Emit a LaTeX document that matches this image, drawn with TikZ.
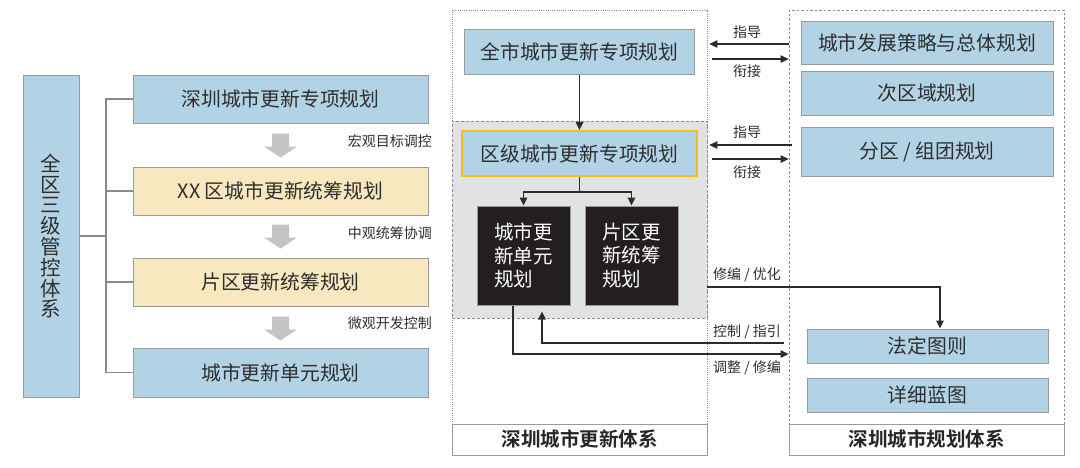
\documentclass[tikz,border=0pt]{standalone}
\usepackage{fontspec}
\setmainfont{Noto Sans CJK SC}[BoldFont={Noto Sans CJK SC Bold}]
\usetikzlibrary{arrows.meta,calc}
\definecolor{boxblue}{HTML}{B2D3E6}
\definecolor{boxyellow}{HTML}{F8E8C0}
\definecolor{regiongray}{HTML}{E1E2E4}
\definecolor{darkbox}{HTML}{231F20}
\definecolor{gold}{HTML}{F6BE1A}
\definecolor{bordergray}{HTML}{9B9B9B}
\definecolor{txt}{HTML}{2E2E2E}
\definecolor{linegray}{HTML}{8A8A8A}
\definecolor{arrowgray}{HTML}{C4C4C4}
\definecolor{conngray}{HTML}{2B2B2B}
\tikzset{
  basebox/.style={draw=bordergray, line width=1pt, inner sep=0pt, text=txt,
    font=\fontsize{19.8}{23}\selectfont, anchor=center},
  bluebox/.style={basebox, fill=boxblue},
  yellowbox/.style={basebox, fill=boxyellow},
  darkrect/.style={basebox, fill=darkbox, text=white, align=left,
    font=\fontsize{19.5}{23.5}\selectfont},
  titlebox/.style={basebox, fill=white, font=\bfseries\fontsize{19.5}{23}\selectfont, text=black!85},
  lbl/.style={inner sep=0pt, text=txt, font=\fontsize{14}{15}\selectfont},
  bracket/.style={draw=linegray, line width=1.4pt},
  conn/.style={draw=conngray, line width=1.3pt, -{Triangle[length=8pt,width=7.5pt]}},
  garrow/.pic={\fill[arrowgray] (-8.5,0) -- (8.5,0) -- (8.5,13) -- (16.5,13) -- (0,24)
     -- (-16.5,13) -- (-8.5,13) -- cycle;}
}
\begin{document}
\begin{tikzpicture}[x=1pt,y=-1pt]
\useasboundingbox (0,0) rectangle (1080,467);

% ---------- left part ----------
\node[bluebox, minimum width=56, minimum height=322, align=center,
      font=\fontsize{20.5}{20.8}\selectfont] (sys) at (51,236)
      {全\\区\\三\\级\\管\\控\\体\\系};
\node[bluebox, minimum width=295, minimum height=48] (L1) at (280.5,99) {深圳城市更新专项规划};
\node[yellowbox, minimum width=295, minimum height=48] (L2) at (280.5,191) {XX 区城市更新统筹规划};
\node[yellowbox, minimum width=295, minimum height=48] (L3) at (280.5,282) {片区更新统筹规划};
\node[bluebox, minimum width=295, minimum height=49] (L4) at (280.5,372.5) {城市更新单元规划};

\coordinate (br) at (106,236);
\draw[bracket] (sys.east) -- (br);
\draw[bracket] (L1.west) -| (br) |- (L4.west);
\draw[bracket] (L2.west) -- (L2.west -| br);
\draw[bracket] (L3.west) -- (L3.west -| br);

\pic at ($(L1.south)+(0,10)$) {garrow};
\pic at ($(L2.south)+(0,9)$) {garrow};
\pic at ($(L3.south)+(0,10)$) {garrow};

\node[lbl, anchor=east] (t1) at (432,141) {宏观目标调控};
\node[lbl, anchor=east] (t2) at (432,233) {中观统筹协调};
\node[lbl, anchor=east] (t3) at (432,323) {微观开发控制};

% ---------- containers ----------
\node[draw=black!45, line width=0.8pt, dash pattern=on 1pt off 1.2pt, inner sep=0pt,
      minimum width=255, minimum height=414] (CL) at (579.5,217) {};
\node[fill=regiongray, draw=black!45, line width=0.8pt, dash pattern=on 3pt off 2pt, inner sep=0pt,
      minimum width=255, minimum height=197] (GR) at (579.5,219.5) {};
\node[draw=black!45, line width=0.8pt, dash pattern=on 2.5pt off 2pt, inner sep=0pt,
      minimum width=275, minimum height=414] (CR) at (926.5,217) {};
\node[titlebox, minimum width=255, minimum height=31] (LB1) at (579.5,439.5) {深圳城市更新体系};
\node[titlebox, minimum width=275, minimum height=31] (LB2) at (926.5,439.5) {深圳城市规划体系};

% ---------- middle ----------
\node[bluebox, minimum width=230, minimum height=45] (M1) at (579.5,51.5) {全市城市更新专项规划};
\node[bluebox, draw=gold, line width=2pt, minimum width=235, minimum height=45] (M2) at (579.5,153.5) {区级城市更新专项规划};
\node[darkrect, minimum width=93, minimum height=99] (B1) at (523.5,255.5) {城市更\\新单元\\规划};
\node[darkrect, minimum width=93, minimum height=99] (B2) at (631.5,255.5) {片区更\\新统筹\\规划};

\draw[conn] (M1.south) -- (M2.north);
\draw[conn] (M2.south) -- ++(0,15) -| (B1.north);
\draw[conn] (M2.south) -- ++(0,15) -| (B2.north);

% ---------- right ----------
\node[bluebox, minimum width=252, minimum height=43] (R1) at (927,42.5) {城市发展策略与总体规划};
\node[bluebox, minimum width=252, minimum height=44] (R2) at (927,93) {次区域规划};
\node[bluebox, minimum width=252, minimum height=49] (R3) at (927,151.5) {分区 / 组团规划};
\node[bluebox, minimum width=241, minimum height=34] (R4) at (927.5,346) {法定图则};
\node[bluebox, minimum width=241, minimum height=34] (R5) at (927.5,395) {详细蓝图};

% ---------- cross links ----------
\draw[conn] (CR.west |- 0,44) -- ($(CL.east |- 0,44)+(2,0)$);
\draw[conn, shorten <=5pt] (CL.east |- 0,59) -- (CR.west |- 0,59);
\draw[conn] ($(CR.west |- 0,145)+(3,0)$) -- ($(CL.east |- 0,145)+(2,0)$);
\draw[conn, shorten <=5pt] (CL.east |- 0,159) -- (CR.west |- 0,159);
\node[lbl] (g1) at (747,32) {指导};
\node[lbl] (x1) at (747,71) {衔接};
\node[lbl] (g2) at (747,132) {指导};
\node[lbl] (x2) at (747,172) {衔接};

\draw[conn] (CL.east |- 0,287) -| ($(R4.north)+(12.5,0)$);
\draw[conn, shorten >=6pt] ($(CR.west |- 0,343)+(-5,0)$) -| ($(B1.south)+(18.5,0)$);
\draw[conn] ($(B1.south)+(-10.5,0)$) |- (CR.west |- 0,354);
\node[lbl, anchor=west] (e1) at (713,275) {修编 / 优化};
\node[lbl, anchor=west] (e2) at (713,332) {控制 / 指引};
\node[lbl, anchor=west] (e3) at (713,368) {调整 / 修编};
\end{tikzpicture}
\end{document}
